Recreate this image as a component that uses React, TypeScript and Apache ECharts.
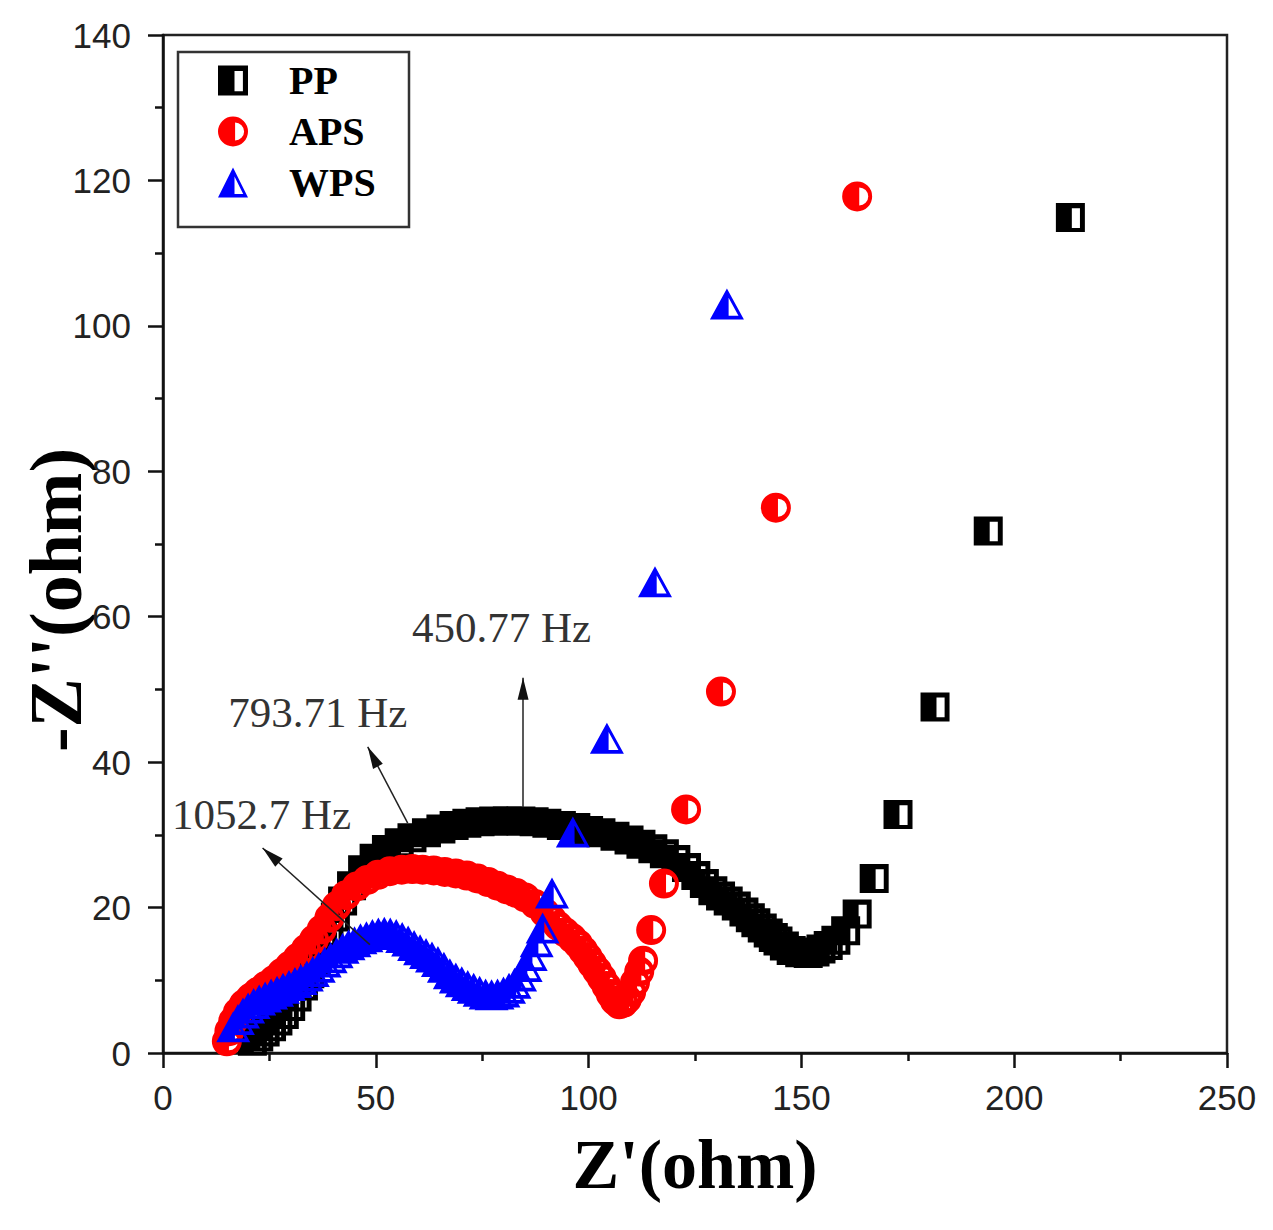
import React, { useEffect, useRef } from "react";
import * as echarts from "echarts";

// ---- Data (Z' in ohm, -Z'' in ohm) ----
const PP_X = [21, 22.5, 24, 25.5, 27, 28.5, 30, 31.5, 33, 34.5, 36, 37.5, 39, 40.5, 42.2, 44.3, 46.9, 49.6, 52.5, 55.5, 58.5, 61.9, 65.3, 68.4, 71.4, 74.5, 77.7, 80.9, 84.1, 87.2, 90.2, 93.6, 97.0, 100, 102.9, 106.2, 109.5, 112.3, 115.1, 117.8, 120.5, 123, 125.2, 127.2, 129.2, 131, 132.8, 134.7, 136.5, 138, 139.3, 140.8, 142.2, 143.4, 144.5, 146, 147.6, 149.6, 151.6, 153.2, 154.6, 156.3, 158.1, 160.4, 163.1, 167.1, 172.7, 181.4, 193.9, 213.2];
const PP_Y = [1.6, 2.2, 2.9, 3.6, 4.4, 5.3, 6.4, 7.7, 9.2, 10.9, 12.7, 14.6, 16.6, 18.7, 20.9, 23.0, 25.2, 26.8, 28.0, 28.9, 29.6, 30.3, 30.8, 31.3, 31.6, 31.8, 31.9, 31.9, 31.9, 31.8, 31.6, 31.3, 31.0, 30.6, 30.3, 29.8, 29.3, 28.7, 28.1, 27.4, 26.6, 25.5, 24.4, 23.3, 22.3, 21.6, 20.9, 20.2, 19.4, 18.6, 17.9, 17.2, 16.5, 15.9, 15.4, 14.7, 14.1, 13.8, 13.7, 13.9, 14.3, 14.8, 15.5, 16.8, 19.1, 24.0, 32.8, 47.6, 71.8, 114.9];

const APS_X = [15.0, 15.6, 16.5, 17.6, 19, 20.6, 22.3, 24.1, 26, 27.9, 29.8, 31.7, 33.6, 35.5, 37.3, 39.1, 40.8, 43, 45.5, 48, 50.5, 53.3, 56.1, 58.6, 61, 63.6, 66.2, 68.8, 71.4, 73.9, 76.4, 78.6, 80.8, 83, 85.1, 87.4, 89.7, 91.3, 92.8, 94.5, 96.1, 97.5, 98.7, 99.8, 100.8, 102, 103.1, 104.2, 105.2, 106.2, 107.2, 108.2, 109.0, 110, 110.9, 111.9, 112.8, 114.7, 117.7, 122.9, 131.1, 144.0, 163.1];
const APS_Y = [1.6, 3.0, 4.4, 5.6, 6.7, 7.6, 8.4, 9.2, 10.0, 11.0, 12.0, 13.1, 14.3, 15.6, 17.0, 18.6, 20.2, 21.7, 22.9, 23.8, 24.5, 25.0, 25.2, 25.3, 25.2, 25.1, 24.9, 24.7, 24.4, 24.0, 23.5, 23.0, 22.5, 22.0, 21.4, 20.5, 19.3, 18.4, 17.5, 16.6, 15.8, 15.0, 14.1, 13.2, 12.3, 11.3, 10.3, 9.2, 8.1, 7.2, 6.7, 6.9, 7.4, 8.4, 9.7, 11.2, 12.7, 16.9, 23.3, 33.5, 49.7, 75.0, 117.8];

const WPS_X = [16.5, 17.6, 18.8, 20, 21.3, 22.6, 24, 25.4, 26.8, 28.2, 29.6, 31, 32.4, 33.8, 35.2, 36.6, 38, 39.4, 40.8, 42.2, 43.6, 45, 46.4, 47.8, 49.2, 50.6, 52, 53.4, 54.8, 56.2, 57.6, 59, 60.4, 61.8, 63.2, 64.6, 66, 67.4, 68.8, 70.2, 71.6, 73, 74.4, 75.8, 77.2, 78.6, 80, 81.3, 82.6, 83.9, 85.2, 86.4, 87.8, 89.2, 91.4, 96.3, 104.3, 115.6, 132.5];
const WPS_Y = [3.6, 4.6, 5.5, 6.2, 6.8, 7.3, 7.7, 8.1, 8.5, 8.9, 9.3, 9.7, 10.1, 10.6, 11.2, 11.8, 12.5, 13.1, 13.8, 14.4, 14.9, 15.3, 15.7, 16.0, 16.3, 16.5, 16.6, 16.5, 16.3, 15.9, 15.4, 14.8, 14.2, 13.7, 13.2, 12.6, 11.8, 10.9, 10.3, 9.8, 9.3, 8.9, 8.5, 8.1, 8.0, 8.1, 8.4, 8.9, 9.6, 10.6, 11.9, 13.4, 15.3, 17.2, 22.0, 30.4, 43.3, 64.8, 103.0];

const SERIES_NAMES = ["PP", "APS", "WPS"];
const X_TICKS = [0, 50, 100, 150, 200, 250];
const Y_TICKS = [0, 20, 40, 60, 80, 100, 120, 140];

// annotations (frequency labels and arrows), in data units
const ANNOT_TEXT = ["450.77 Hz", "793.71 Hz", "1052.7 Hz"];
const ANNOT_X = [58.4, 15.2, 2.0];
const ANNOT_Y = [58.5, 46.8, 32.8];
const ARROW_FROM_X = [84.6, 57.5, 48.6];
const ARROW_FROM_Y = [33.8, 31.6, 14.9];
const ARROW_TIP_X = [84.6, 48.1, 23.4];
const ARROW_TIP_Y = [51.6, 42.1, 28.2];

// half-filled Origin-like symbols (hole wound opposite to outline)
const SYM_SQUARE = "path://M0 0L100 0L100 100L0 100Z M55 18L55 86L83 86L83 18Z";
const SYM_CIRCLE = "path://M50 0A50 50 0 1 1 50 100A50 50 0 1 1 50 0Z M57 20L57 80A30 30 0 0 0 57 20Z";
const SYM_TRIANGLE = "path://M50 0L100 100L0 100Z M55 30L55 88L84 88Z";

const SANS = "'Liberation Sans', Arial, sans-serif";
const SERIF = "'Liberation Serif', 'Times New Roman', serif";

const zip = (xs: number[], ys: number[]) => xs.map((x, i) => [x, ys[i]]);

export default function App() {
  const ref = useRef<HTMLDivElement>(null);

  useEffect(() => {
    if (!ref.current) return;
    const chart = echarts.init(ref.current, null, { renderer: "svg" });

    const axisCommon = {
      type: "value" as const,
      axisLine: { show: true, onZero: false, lineStyle: { color: "#111", width: 2.5 } },
      axisTick: { show: true, inside: false, length: 15, lineStyle: { color: "#111", width: 2.5 } },
      minorTick: { show: true, splitNumber: 2, length: 8, lineStyle: { color: "#111", width: 2.5 } },
      splitLine: { show: false },
      minorSplitLine: { show: false },
    };

    const baseGraphic: any[] = [
      {
        type: "rect",
        z: 1,
        shape: { x: 178, y: 52, width: 231, height: 175 },
        style: { fill: "#fff", stroke: "#333", lineWidth: 2.5 },
      },
      {
        type: "text",
        x: 56,
        y: 600,
        rotation: Math.PI / 2,
        style: {
          text: "-Z''(ohm)",
          fontFamily: SERIF,
          fontWeight: "bold",
          fontSize: 74,
          fill: "#000",
          textAlign: "center",
          textVerticalAlign: "middle",
        },
      },
    ];

    const option: any = {
      animation: false,
      backgroundColor: "#fff",
      grid: {
        left: 163,
        right: 46,
        top: 35,
        bottom: 177,
        show: true,
        borderColor: "#222",
        borderWidth: 2.5,
        backgroundColor: "transparent",
        containLabel: false,
        outerBoundsMode: "none",
      },
      xAxis: {
        ...axisCommon,
        min: X_TICKS[0],
        max: X_TICKS[X_TICKS.length - 1],
        interval: X_TICKS[1] - X_TICKS[0],
        axisLabel: { margin: 27, fontSize: 35, color: "#222", fontFamily: SANS },
        name: "Z'(ohm)",
        nameLocation: "middle",
        nameGap: 76,
        nameTextStyle: { fontFamily: SERIF, fontWeight: "bold", fontSize: 70, color: "#000" },
      },
      yAxis: {
        ...axisCommon,
        min: Y_TICKS[0],
        max: Y_TICKS[Y_TICKS.length - 1],
        interval: Y_TICKS[1] - Y_TICKS[0],
        axisLabel: { margin: 32, fontSize: 35, color: "#222", fontFamily: SANS },
      },
      legend: {
        show: true,
        orient: "vertical",
        left: 218,
        top: 60.5,
        padding: 0,
        itemWidth: 102,
        itemHeight: 30,
        itemGap: 11,
        selectedMode: false,
        symbolKeepAspect: true,
        data: SERIES_NAMES,
        textStyle: { fontFamily: SERIF, fontWeight: "bold", fontSize: 40, color: "#000" },
      },
      graphic: baseGraphic,
      series: [
        {
          name: SERIES_NAMES[0],
          type: "scatter",
          data: zip(PP_X, PP_Y),
          symbol: SYM_SQUARE,
          symbolSize: 29,
          itemStyle: { color: "#000", opacity: 1 },
        },
        {
          name: SERIES_NAMES[1],
          type: "scatter",
          data: zip(APS_X, APS_Y),
          symbol: SYM_CIRCLE,
          symbolSize: 30,
          itemStyle: { color: "#ff0000", opacity: 1 },
        },
        {
          name: SERIES_NAMES[2],
          type: "scatter",
          data: zip(WPS_X, WPS_Y),
          symbol: SYM_TRIANGLE,
          symbolSize: [34, 31],
          itemStyle: { color: "#0000ff", opacity: 1 },
        },
        {
          name: "annotations",
          type: "scatter",
          data: [],
          z: 5,
          markLine: {
            silent: true,
            animation: false,
            symbol: ["none", "none"],
            lineStyle: { color: "#222", width: 1.5, type: "solid" },
            label: { show: false },
            emphasis: { disabled: true },
            data: ARROW_FROM_X.map((fx, i) => [
              { coord: [fx, ARROW_FROM_Y[i]] },
              { coord: [ARROW_TIP_X[i], ARROW_TIP_Y[i]] },
            ]),
          },
          markPoint: {
            silent: true,
            animation: false,
            symbol: "circle",
            symbolSize: 1,
            itemStyle: { color: "transparent" },
            label: {
              show: true,
              position: "right",
              distance: 0,
              formatter: "{b}",
              fontFamily: SERIF,
              fontSize: 43,
              color: "#333",
            },
            data: ANNOT_TEXT.map((t, i) => ({ name: t, coord: [ANNOT_X[i], ANNOT_Y[i]] })),
          },
        },
      ],
    };

    chart.setOption(option);

    // arrow heads, placed through the grid's own scales
    const heads = ARROW_TIP_X.map((tx, i) => {
      const tip = chart.convertToPixel({ gridIndex: 0 }, [tx, ARROW_TIP_Y[i]]) as number[];
      const from = chart.convertToPixel({ gridIndex: 0 }, [ARROW_FROM_X[i], ARROW_FROM_Y[i]]) as number[];
      const dx = tip[0] - from[0];
      const dy = tip[1] - from[1];
      const len = Math.sqrt(dx * dx + dy * dy) || 1;
      const ux = dx / len;
      const uy = dy / len;
      const L = 22;
      const W = 5.5;
      const bx = tip[0] - ux * L;
      const by = tip[1] - uy * L;
      return {
        type: "polygon",
        z: 10,
        silent: true,
        shape: {
          points: [
            [tip[0], tip[1]],
            [bx - uy * W, by + ux * W],
            [bx + uy * W, by - ux * W],
          ],
        },
        style: { fill: "#111", stroke: "none" },
      };
    });
    chart.setOption({ graphic: [...baseGraphic, ...heads] });

    return () => chart.dispose();
  }, []);

  return (
    <div
      ref={ref}
      style={{ position: "absolute", left: 0, top: 0, width: 1273, height: 1230, background: "#fff" }}
    />
  );
}
